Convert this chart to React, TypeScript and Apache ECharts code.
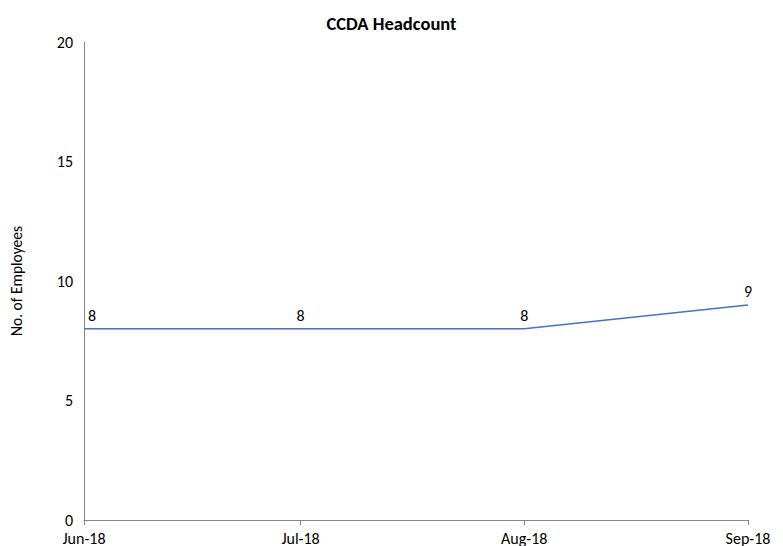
import React, { useEffect, useRef } from "react";
import * as echarts from "echarts";

const monthDates = ["2018-06-01", "2018-07-01", "2018-08-01", "2018-09-01"];
const tickLabels = ["Jun-18", "Jul-18", "Aug-18", "Sep-18"];
const headcount = [8, 8, 8, 9];
const yTicks = { min: 0, max: 20, interval: 5 };

export default function App() {
  const ref = useRef<HTMLDivElement>(null);
  useEffect(() => {
    const chart = echarts.init(ref.current!, null, { renderer: "svg" });
    const font = "Carlito, Lato, sans-serif";
    const times = monthDates.map((d) => Date.parse(d + "T00:00:00Z"));
    const labelOf = (v: number) => {
      const i = times.indexOf(v);
      return i >= 0 ? tickLabels[i] : "";
    };
    chart.setOption({
      animation: false,
      backgroundColor: "#ffffff",
      title: {
        text: "CCDA Headcount",
        left: "center",
        top: 9,
        textStyle: { fontFamily: font, fontSize: 18.5, fontWeight: "bold", color: "#000" },
      },
      grid: { left: 84, right: 35, top: 42, bottom: 25 },
      xAxis: {
        type: "value",
        min: times[0],
        max: times[times.length - 1],
        axisLine: { lineStyle: { color: "#868686", width: 1 } },
        axisTick: { show: true, customValues: times, length: 5, lineStyle: { color: "#868686" } },
        axisLabel: {
          customValues: times,
          formatter: (v: number) => labelOf(v),
          fontFamily: font,
          fontSize: 16,
          color: "#000",
          margin: 10,
        },
        splitLine: { show: false },
      },
      yAxis: {
        type: "value",
        min: yTicks.min,
        max: yTicks.max,
        interval: yTicks.interval,
        name: "No. of Employees",
        nameLocation: "middle",
        nameGap: 60,
        nameRotate: 90,
        nameTextStyle: { fontFamily: font, fontSize: 15.5, color: "#000" },
        axisLine: { show: true, lineStyle: { color: "#868686", width: 1 } },
        axisTick: { show: false },
        axisLabel: { fontFamily: font, fontSize: 16, color: "#000", margin: 11 },
        splitLine: { show: false },
      },
      series: [
        {
          type: "line",
          data: headcount.map((v, i) =>
            i === 0
              ? { value: [times[i], v], label: { offset: [8, 0] } }
              : { value: [times[i], v] }
          ),
          symbol: "circle",
          symbolSize: 1,
          showSymbol: true,
          lineStyle: { color: "#4472C4", width: 1.5 },
          itemStyle: { color: "rgba(0,0,0,0)" },
          label: {
            show: true,
            position: "top",
            distance: 5,
            fontFamily: font,
            fontSize: 16,
            color: "#000",
            formatter: (p: any) => String(p.value[1]),
          },
        },
      ],
    });
    return () => chart.dispose();
  }, []);
  return (
    <div
      ref={ref}
      style={{ position: "absolute", left: 0, top: 0, width: 783, height: 546 }}
    />
  );
}
